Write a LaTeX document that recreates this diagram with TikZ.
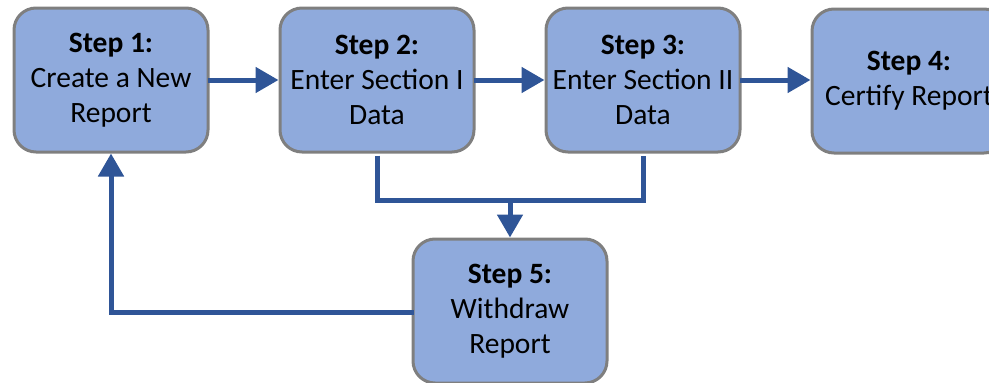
\documentclass[tikz,border=0pt]{standalone}
\usepackage{fontspec}
\setmainfont{Carlito}
\usetikzlibrary{arrows.meta}
\definecolor{boxfill}{HTML}{8FAADC}
\definecolor{boxline}{HTML}{7F7F7F}
\definecolor{flow}{HTML}{2F5597}
\begin{document}
\begin{tikzpicture}[x=1pt,y=-1pt,
  stepbox/.style={draw=boxline, line width=3pt, fill=boxfill, rounded corners=22pt,
    minimum width=194pt, minimum height=144pt, align=center, inner sep=0pt,
    font=\fontsize{29.5pt}{35pt}\selectfont},
  flowline/.style={draw=flow, line width=5pt},
  flowarrow/.style={flowline, -{Triangle[length=23pt,width=25pt]}}]
\useasboundingbox (0,0) rectangle (989,383);
\node[stepbox] (s1) at (111,80) {\textbf{Step 1:}\\Create a New\\Report};
\node[stepbox] (s2) at (377,80) {\textbf{Step 2:}\\Enter Section I\\Data};
\node[stepbox] (s3) at (643,80) {\textbf{Step 3:}\\Enter Section II\\Data};
\node[stepbox] (s4) at (909,81) {\textbf{Step 4:}\\Certify Report};
\node[stepbox] (s5) at (510,311) {\textbf{Step 5:}\\Withdraw\\Report};
\coordinate (j) at (510,200);
\coordinate (c2) at (377,200);
\coordinate (c3) at (643,200);
\coordinate (c1) at (111,312);
% forward flow along the top row
\draw[flowarrow] ([xshift=-2pt]s1.east) -- (s2.west);
\draw[flowarrow] ([xshift=-2pt]s2.east) -- (s3.west);
\draw[flowarrow] ([xshift=-2pt]s3.east) -- (s4.west |- s3.east);
% steps 2 and 3 both lead to step 5
\draw[flowline, line join=miter] ([yshift=-2pt]s2.south) -- (c2) -- (c3) -- ([yshift=-2pt]s3.south);
\draw[flowarrow] (j) -- (s5.north);
% withdrawal returns to step 1
\draw[flowarrow, line join=miter] ([xshift=2pt]s5.west |- c1) -- (c1) -- (s1.south);
\end{tikzpicture}
\end{document}
